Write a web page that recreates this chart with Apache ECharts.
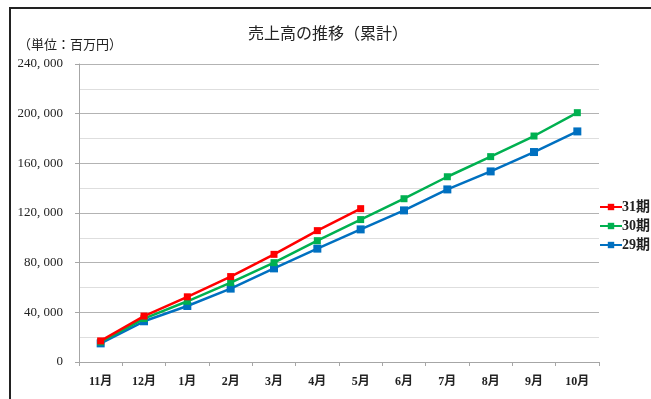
<!DOCTYPE html>
<html>
<head>
<meta charset="utf-8">
<script src="https://cdn.jsdelivr.net/npm/echarts@6/dist/echarts.min.js"></script>
<style>
html, body { margin: 0; padding: 0; background: #fff; }
#main { width: 651px; height: 399px; }
</style>
</head>
<body>
<div id="main"></div>
<script>
// months (fiscal year starts in November)
var months = ['11月', '12月', '1月', '2月', '3月', '4月', '5月', '6月', '7月', '8月', '9月', '10月'];

// cumulative sales, million yen
var term31 = [17000, 37000, 52500, 68800, 86700, 105800, 123500];
var term30 = [16100, 35000, 48900, 63900, 80000, 97700, 114700, 131500, 149200, 165400, 182000, 200800];
var term29 = [15000, 32800, 45100, 59100, 75400, 91300, 106800, 122100, 139000, 153500, 169100, 185700];

var seriesNames = ['31期', '30期', '29期'];
var seriesColors = ['#ff0000', '#00b050', '#0070c0'];

var fontMix = '"Liberation Serif", "Noto Sans CJK JP", serif';

var chart = echarts.init(document.getElementById('main'), null, { renderer: 'canvas' });

var option = {
    backgroundColor: '#fff',
    animation: false,
    title: {
        text: '売上高の推移（累計）',
        left: 243,
        top: 22,
        textStyle: { fontFamily: fontMix, fontSize: 16, fontWeight: 'normal', color: '#222' }
    },
    graphic: [
        {
            type: 'rect',
            shape: { x: 10, y: 8, width: 700, height: 500 },
            style: { fill: 'none', stroke: '#222', lineWidth: 2 }
        },
        {
            type: 'text',
            left: 18,
            top: 39,
            style: { text: '（単位：百万円）', font: '13px ' + fontMix, fill: '#222' }
        }
    ],
    legend: {
        orient: 'vertical',
        left: 594,
        top: 195,
        itemGap: 5,
        itemWidth: 22,
        itemHeight: 8,
        textStyle: { fontFamily: fontMix, fontSize: 14, fontWeight: 'bold', color: '#222', padding: [0, 0, 0, -5] },
        data: seriesNames
    },
    grid: { left: 79, right: 52, top: 64, bottom: 37 },
    xAxis: {
        type: 'category',
        data: months,
        boundaryGap: true,
        axisLine: { lineStyle: { color: '#a6a6a6' } },
        axisTick: { show: true, length: 4, lineStyle: { color: '#a6a6a6' } },
        axisLabel: { margin: 14, fontFamily: fontMix, fontSize: 12, fontWeight: 'bold', color: '#222' }
    },
    yAxis: {
        type: 'value',
        min: 0,
        max: 240000,
        interval: 40000,
        axisLine: { show: true, lineStyle: { color: '#a6a6a6' } },
        axisTick: { show: true, length: 4, lineStyle: { color: '#a6a6a6' } },
        axisLabel: {
            margin: 16,
            fontFamily: fontMix,
            fontSize: 13,
            color: '#222',
            formatter: function (v) { return v.toLocaleString('en-US').replace(',', ', '); }
        },
        splitLine: { lineStyle: { color: '#b3b3b3' } },
        minorTick: { show: false, splitNumber: 2 },
        minorSplitLine: { show: true, lineStyle: { color: '#dedede' } }
    },
    series: [
        {
            name: seriesNames[0],
            type: 'line',
            data: term31,
            symbol: 'rect',
            symbolSize: 7,
            color: seriesColors[0],
            lineStyle: { width: 2.5 },
            z: 4
        },
        {
            name: seriesNames[1],
            type: 'line',
            data: term30,
            symbol: 'rect',
            symbolSize: 7,
            color: seriesColors[1],
            lineStyle: { width: 2.5 },
            z: 3
        },
        {
            name: seriesNames[2],
            type: 'line',
            data: term29,
            symbol: 'rect',
            symbolSize: 8,
            color: seriesColors[2],
            lineStyle: { width: 2.5 },
            z: 2
        }
    ]
};

chart.setOption(option);
window.addEventListener('resize', chart.resize);
</script>
</body>
</html>
